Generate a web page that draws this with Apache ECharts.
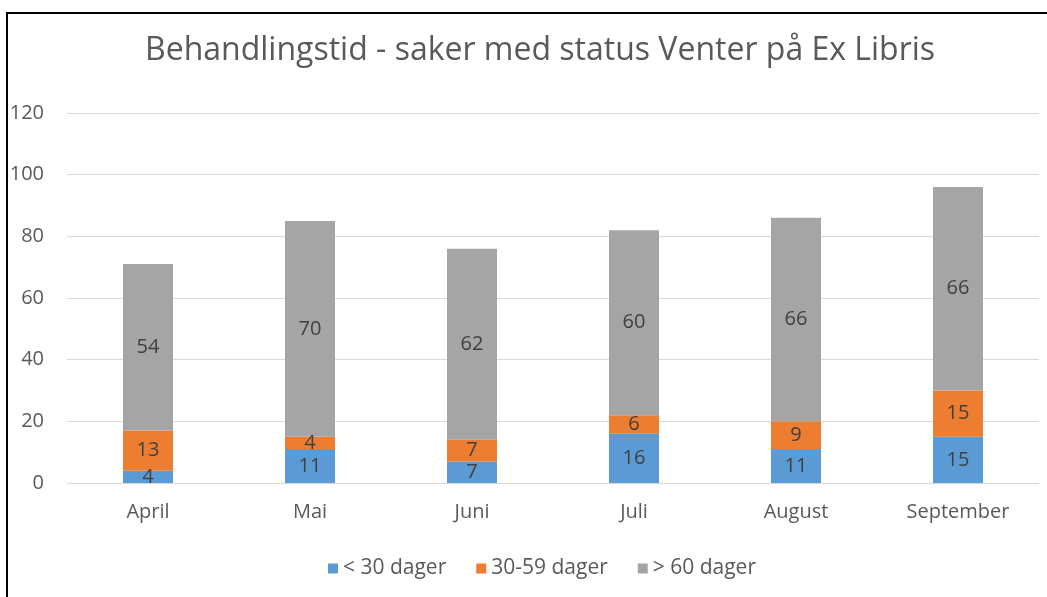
<!DOCTYPE html>
<html>
<head>
<meta charset="utf-8">
<script src="https://cdn.jsdelivr.net/npm/echarts@6/dist/echarts.min.js"></script>
<style>
  html, body { margin: 0; padding: 0; background: #fff; }
  .frame {
    position: absolute;
    left: 6px;
    top: 12px;
    width: 1100px;
    height: 700px;
    border-top: 2px solid #000;
    border-left: 2px solid #000;
  }
  #chart {
    position: absolute;
    left: 0;
    top: 0;
    width: 1047px;
    height: 597px;
  }
</style>
</head>
<body>
<div class="frame"></div>
<div id="chart"></div>
<script>
var months = ['April', 'Mai', 'Juni', 'Juli', 'August', 'September']
var under30 = [4, 11, 7, 16, 11, 15]
var days30to59 = [13, 4, 7, 6, 9, 15]
var over60 = [54, 70, 62, 60, 66, 66]
var seriesNames = ['< 30 dager', '30-59 dager', '> 60 dager']
var colors = ['#5b9bd5', '#ed7d31', '#a5a5a5']

var fontName = '"Open Sans", Lato, sans-serif'
var textColor = '#595959'

var chart = echarts.init(document.getElementById('chart'))

function makeSeries(name, values, color) {
  return {
    name: name,
    type: 'bar',
    stack: 'total',
    barWidth: 50,
    data: values,
    itemStyle: { color: color },
    label: {
      show: true,
      position: 'inside',
      color: '#404040',
      fontSize: 20,
      fontFamily: fontName
    }
  }
}

chart.setOption({
  animation: false,
  textStyle: { fontFamily: fontName },
  title: {
    text: 'Behandlingstid - saker med status Venter på Ex Libris',
    left: 140,
    top: 30,
    textStyle: {
      color: textColor,
      fontSize: 32,
      fontWeight: 'normal',
      fontFamily: fontName
    }
  },
  legend: {
    bottom: 13,
    left: 323,
    itemWidth: 10,
    itemHeight: 10,
    itemGap: 30,
    icon: 'rect',
    textStyle: { color: textColor, fontSize: 21, fontFamily: fontName },
    data: seriesNames
  },
  grid: {
    left: 67,
    right: 8,
    top: 113,
    bottom: 114
  },
  xAxis: {
    type: 'category',
    data: months,
    axisLine: { show: false },
    axisTick: { show: false },
    axisLabel: { color: textColor, fontSize: 20, margin: 19, fontFamily: fontName }
  },
  yAxis: {
    type: 'value',
    min: 0,
    max: 120,
    interval: 20,
    axisLine: { show: false },
    axisTick: { show: false },
    axisLabel: { color: textColor, fontSize: 20, margin: 23, fontFamily: fontName },
    splitLine: { lineStyle: { color: '#d9d9d9', width: 1 } }
  },
  series: [
    makeSeries(seriesNames[0], under30, colors[0]),
    makeSeries(seriesNames[1], days30to59, colors[1]),
    makeSeries(seriesNames[2], over60, colors[2])
  ]
})
</script>
</body>
</html>
